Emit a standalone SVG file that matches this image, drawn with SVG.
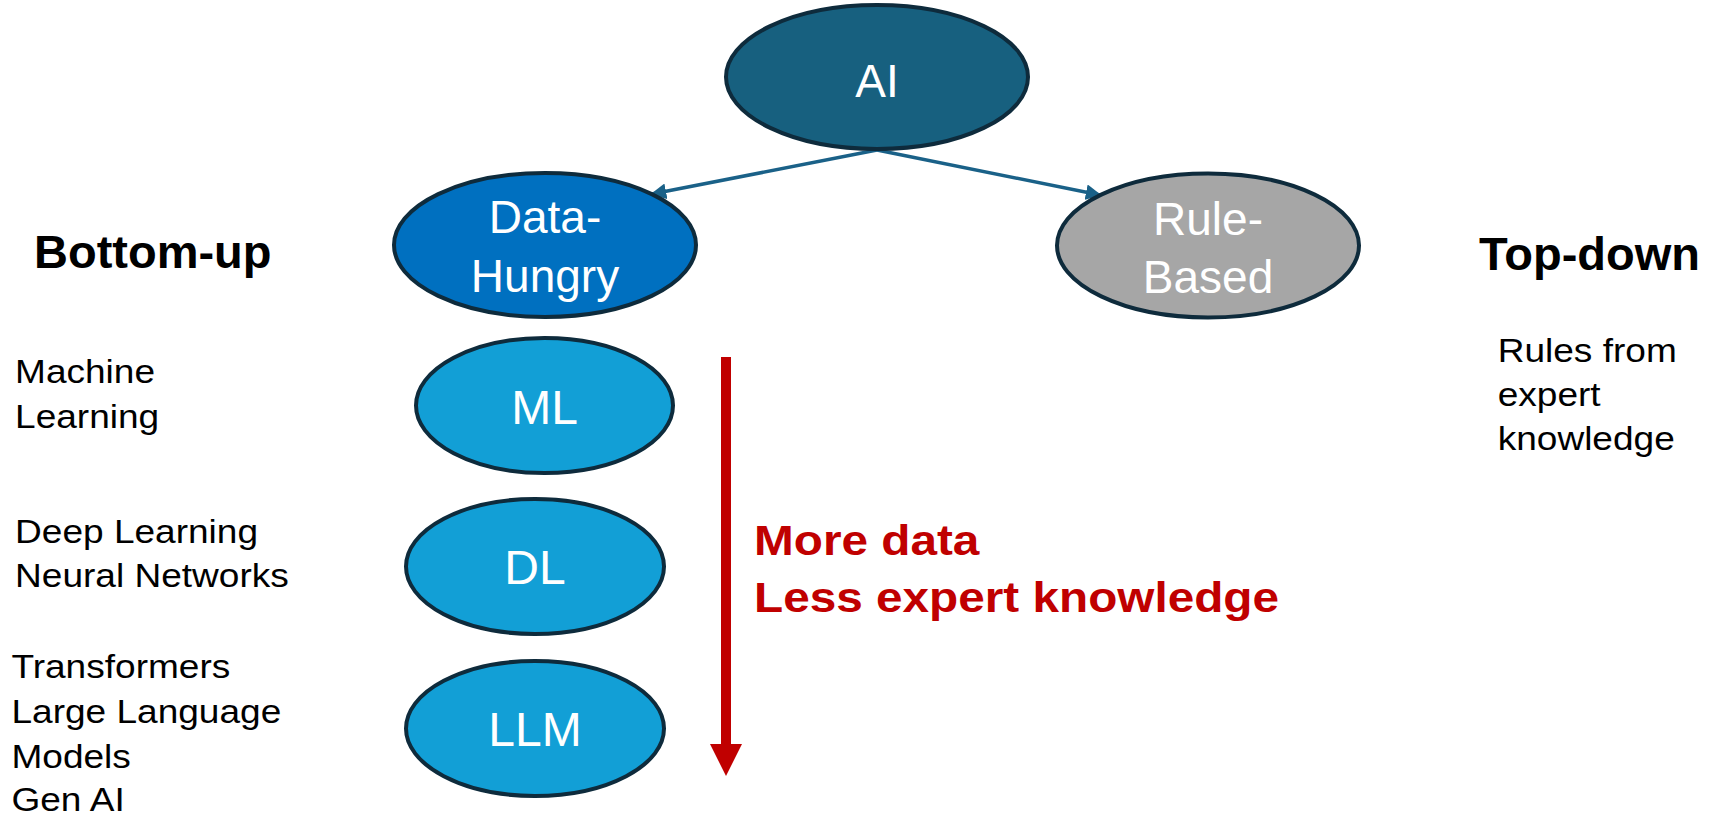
<svg xmlns="http://www.w3.org/2000/svg" width="1723" height="817" viewBox="0 0 1723 817">
<style>
.node{stroke:#0E2B3C;stroke-width:4}
.lbl{font-family:"Liberation Sans",Arial,sans-serif;fill:#FFFFFF;text-anchor:middle}
.side{font-family:"Liberation Sans",Arial,sans-serif;fill:#000000;font-size:34px}
.head{font-family:"Liberation Sans",Arial,sans-serif;fill:#000000;font-size:47px;font-weight:bold}
.red{font-family:"Liberation Sans",Arial,sans-serif;fill:#C00000;font-size:43px;font-weight:bold}
.conn{stroke:#1A6188;stroke-width:3.5;fill:none}
</style>
<defs>
<marker id="ah" viewBox="0 0 10 10" refX="9" refY="5" markerWidth="4.5" markerHeight="4.5" markerUnits="strokeWidth" orient="auto">
<path d="M0,0 L10,5 L0,10 Z" fill="#1A6188"/>
</marker>
</defs>
<rect width="1723" height="817" fill="#FFFFFF"/>
<g id="connectors">
<line class="conn" x1="877" y1="150" x2="652" y2="194" marker-end="url(#ah)"/>
<line class="conn" x1="877" y1="150" x2="1100" y2="195" marker-end="url(#ah)"/>
<g id="red-arrow">
<rect x="721" y="357" width="10" height="389" fill="#C00000"/>
<polygon points="710,744 742,744 726,776" fill="#C00000"/>
</g>
</g>
<g id="node-ai">
<ellipse class="node" cx="877" cy="77" rx="151" ry="72" fill="#17607F"/>
<text class="lbl" x="877" y="97" font-size="46">AI</text>
</g>
<g id="node-data-hungry">
<ellipse class="node" cx="545" cy="245" rx="151" ry="72" fill="#0070C0"/>
<text class="lbl" x="545" y="233" font-size="46">Data-</text>
<text class="lbl" x="545" y="292" font-size="46">Hungry</text>
</g>
<g id="node-rule-based">
<ellipse class="node" cx="1208" cy="245.5" rx="151" ry="72" fill="#A6A6A6"/>
<text class="lbl" x="1208" y="235" font-size="46">Rule-</text>
<text class="lbl" x="1208" y="293" font-size="46">Based</text>
</g>
<g id="node-ml">
<ellipse class="node" cx="544.5" cy="405.5" rx="128.5" ry="67.5" fill="#129FD6"/>
<text class="lbl" x="544.5" y="424" font-size="48">ML</text>
</g>
<g id="node-dl">
<ellipse class="node" cx="535" cy="566.5" rx="129" ry="67.5" fill="#129FD6"/>
<text class="lbl" x="535" y="584" font-size="48">DL</text>
</g>
<g id="node-llm">
<ellipse class="node" cx="535" cy="728.5" rx="129" ry="67.5" fill="#129FD6"/>
<text class="lbl" x="535" y="746" font-size="48">LLM</text>
</g>
<g id="labels">
<text class="head" x="34" y="268">Bottom-up</text>
<text class="head" x="1479" y="270">Top-down</text>
<g transform="scale(1.09,1)">
<text class="side" x="13.8" y="383">Machine</text>
<text class="side" x="13.8" y="428">Learning</text>
<text class="side" x="13.8" y="543">Deep Learning</text>
<text class="side" x="13.8" y="587">Neural Networks</text>
<text class="side" x="10.5" y="678">Transformers</text>
<text class="side" x="10.5" y="723">Large Language</text>
<text class="side" x="10.5" y="768">Models</text>
<text class="side" x="10.5" y="811">Gen AI</text>
<text class="side" x="1374" y="362">Rules from</text>
<text class="side" x="1374" y="406">expert</text>
<text class="side" x="1374" y="450">knowledge</text>
</g>
<g transform="scale(1.11,1)">
<text class="red" x="679.3" y="555">More data</text>
<text class="red" x="679.3" y="612">Less expert knowledge</text>
</g>
</g>
</svg>
